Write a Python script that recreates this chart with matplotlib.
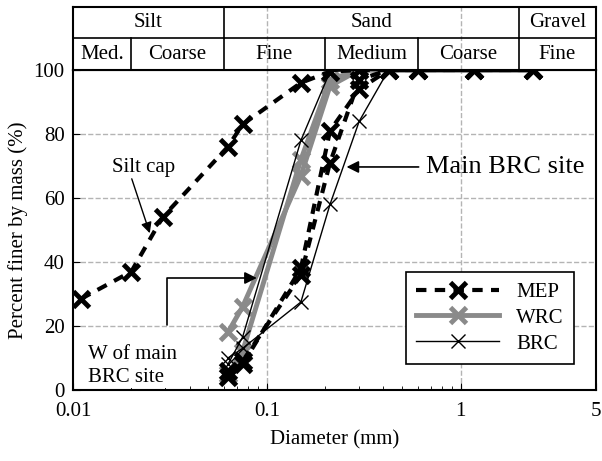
import matplotlib
matplotlib.use('Agg')
import matplotlib.pyplot as plt

plt.rcParams['font.family'] = ['Liberation Serif', 'DejaVu Serif']

# sieve sizes (mm) shared by the sand samples
sieve = [0.063, 0.075, 0.15, 0.212, 0.3, 0.425, 0.6, 1.18, 2.36]

# MEP silt cap (hydrometer points + sieve)
cap_d = [0.011, 0.02, 0.029] + sieve
cap_p = [28.5, 37, 54, 76, 83, 96, 99.5, 100, 100, 100, 100, 100]

# percent finer for the main BRC / W of main BRC samples
mep_a = [4, 8, 38, 81, 94, 100, 100, 100, 100]
mep_b = [6, 9, 36, 71, 97, 100, 100, 100, 100]
wrc_a = [18, 26, 67, 95, 100, 100, 100, 100, 100]
wrc_b = [5, 12, 72, 97, 100, 100, 100, 100, 100]
brc_a = [8, 16.5, 78, 99.5, 100, 100, 100, 100, 100]
brc_b = [10, 13, 27.5, 58, 84, 100, 100, 100, 100]

# soil class table above the plot
row1_edges = [0.01, 0.06, 2, 5]
row1_names = ['Silt', 'Sand', 'Gravel']
row2_edges = [0.01, 0.02, 0.06, 0.2, 0.6, 2, 5]
row2_names = ['Med.', 'Coarse', 'Fine', 'Medium', 'Coarse', 'Fine']

xticks = [0.01, 0.1, 1, 5]
xticklabels = ['0.01', '0.1', '1', '5']
xminor = [0.02, 0.03, 0.04, 0.05, 0.06, 0.07, 0.08, 0.09,
          0.2, 0.3, 0.4, 0.5, 0.6, 0.7, 0.8, 0.9]

FS = 15
GRAY = '#8a8a8a'
GRID = '#b4b4b4'

fig = plt.figure(figsize=(6.02, 4.61), dpi=100)
ax = fig.add_axes([73/602, 1-390/461, 523/602, 320/461])
tax = fig.add_axes([73/602, 1-70/461, 523/602, 63/461])

# ---- table
tax.set_xscale('log')
tax.set_xlim(0.01, 5)
tax.set_ylim(0, 2)
tax.set_xticks([])
tax.set_yticks([])
tax.minorticks_off()
for v in [0.1, 1]:
    tax.axvline(v, color=GRID, ls='--', lw=1, zorder=0)
tax.axhline(1, color='black', lw=1.2)
for e in row1_edges[1:-1]:
    tax.plot([e, e], [1, 2], color='black', lw=1.2)
for e in row2_edges[1:-1]:
    tax.plot([e, e], [0, 1], color='black', lw=1.2)
for i, name in enumerate(row1_names):
    xc = (row1_edges[i] * row1_edges[i+1]) ** 0.5
    tax.text(xc, 1.5, name, ha='center', va='center', fontsize=FS)
for i, name in enumerate(row2_names):
    xc = (row2_edges[i] * row2_edges[i+1]) ** 0.5
    tax.text(xc, 0.5, name, ha='center', va='center', fontsize=FS)
for s in tax.spines.values():
    s.set_linewidth(1.5)

# ---- main plot
ax.set_xscale('log')
ax.set_xlim(0.01, 5)
ax.set_ylim(0, 100)
ax.set_xticks(xticks)
ax.set_xticklabels(xticklabels)
ax.set_xticks(xminor, minor=True)
ax.set_xticklabels([], minor=True)
ax.set_yticks(range(0, 101, 20))
ax.tick_params(which='both', direction='in', labelsize=FS)
ax.tick_params(which='major', length=5)
ax.tick_params(which='minor', length=3)
ax.tick_params(axis='x', pad=9)
ax.tick_params(axis='y', pad=6)
for v in [0.1, 1]:
    ax.axvline(v, color=GRID, ls='--', lw=1, zorder=0)
for v in [20, 40, 60, 80]:
    ax.axhline(v, color=GRID, ls='--', lw=1, zorder=0)
for s in ax.spines.values():
    s.set_linewidth(1.5)

wrc_kw = dict(color=GRAY, lw=3.5, marker='x', ms=12, mew=3.5)
mep_kw = dict(color='black', lw=3, ls=(0, (2.5, 2)), marker='x', ms=11, mew=3.5)
brc_kw = dict(color='black', lw=1, marker='x', ms=10, mew=1)

h_wrc, = ax.plot(sieve, wrc_a, **wrc_kw)
ax.plot(sieve, wrc_b, **wrc_kw)
h_mep, = ax.plot(cap_d, cap_p, **mep_kw)
ax.plot(sieve, mep_a, **mep_kw)
ax.plot(sieve, mep_b, **mep_kw)
h_brc, = ax.plot(sieve, brc_a, **brc_kw)
ax.plot(sieve, brc_b, **brc_kw)

ax.set_xlabel('Diameter (mm)', fontsize=FS, labelpad=6)
ax.set_ylabel('Percent finer by mass (%)', fontsize=FS, labelpad=4)

# annotations
ax.text(0.023, 69.6, 'Silt cap', ha='center', va='center', fontsize=FS)
ax.annotate('', xy=(0.0249, 49), xytext=(0.0201, 66),
            arrowprops=dict(arrowstyle='-|>', color='black', lw=1,
                            mutation_scale=16, shrinkA=0, shrinkB=0))
ax.annotate('Main BRC site', xy=(0.258, 69.7), xytext=(0.66, 69.7),
            ha='left', va='center', fontsize=19,
            arrowprops=dict(arrowstyle='-|>', color='black', lw=1.2,
                            mutation_scale=18, shrinkA=3, shrinkB=0))
ax.annotate('', xy=(0.0888, 35), xytext=(0.0305, 20.3),
            arrowprops=dict(arrowstyle='-|>', color='black', lw=1.2,
                            mutation_scale=18, shrinkA=0, shrinkB=0,
                            connectionstyle='angle,angleA=90,angleB=0,rad=0'))
ax.text(0.0119, 7.5, 'W of main\nBRC site', ha='left', va='center',
        fontsize=FS, linespacing=1.25,
        bbox=dict(facecolor='white', edgecolor='none', pad=1))

leg = ax.legend([h_mep, h_wrc, h_brc], ['MEP', 'WRC', 'BRC'],
                loc='center', bbox_to_anchor=(0.797, 0.225),
                fontsize=FS, frameon=True, fancybox=False,
                edgecolor='black', framealpha=1, handlelength=4.0,
                borderpad=0.5, labelspacing=0.3)
leg.get_frame().set_linewidth(1.2)

fig.savefig('out.png', dpi=100)
